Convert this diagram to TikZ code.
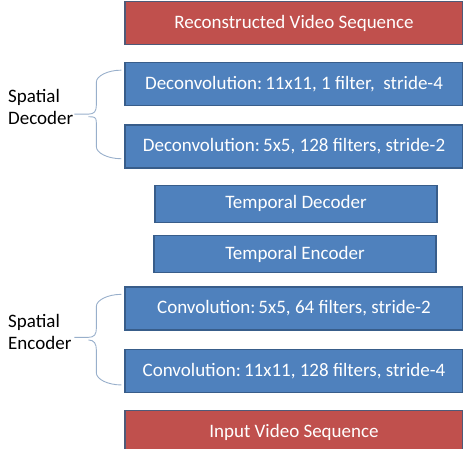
\documentclass[tikz,border=0pt]{standalone}
\usepackage{fontspec}
\setmainfont{Carlito}
\usetikzlibrary{positioning,calc}
\definecolor{videoFill}{HTML}{C0504D}
\definecolor{videoBorder}{HTML}{4E5A78}
\definecolor{layerFill}{HTML}{4F81BD}
\definecolor{layerBorder}{HTML}{385D8A}
\definecolor{braceLine}{HTML}{98AFCB}

\begin{document}
\begin{tikzpicture}[
    x=1pt, y=1pt,
    layer/.style={
        rectangle, draw=layerBorder, fill=layerFill,
        minimum width=338pt, minimum height=43pt,
        inner sep=0pt, line width=1.3pt,
        text=white, font=\fontsize{19}{22}\selectfont
    },
    video/.style={layer, draw=videoBorder, fill=videoFill},
    temporal/.style={layer, minimum width=282pt, minimum height=37pt},
    group/.style={align=left, inner sep=0pt, font=\fontsize{19}{22}\selectfont},
    curly/.style={draw=braceLine, line width=0.9pt}
]
  \useasboundingbox (0,0) rectangle (463,-449);

  % Layer stack, top to bottom
  \node[video] (recon) at (294,-23) {Reconstructed Video Sequence};

  \node[layer, below=17pt of recon] (deconvA) {Deconvolution:\,11x11, 1 filter,\ \ stride-4};

  \node[layer, below=18pt of deconvA] (deconvB) {Deconvolution:\,5x5, 128 filters, stride-2};

  \node[temporal, below=16pt of deconvB, xshift=2pt] (tdec) {Temporal Decoder};

  \node[temporal, below=12pt of tdec, xshift=-1pt] (tenc) {Temporal Encoder};

  \node[layer, below=13pt of tenc, xshift=-1pt] (convA) {Convolution:\,5x5, 64 filters, stride-2};

  \node[layer, below=18pt of convA] (convB) {Convolution:\,11x11, 128 filters, stride-4};

  \node[video, below=17pt of convB] (input) {Input Video Sequence};

  % Group labels
  \node[group, anchor=north west] (sdec) at (8,-89) {Spatial\\Decoder};
  \node[group, anchor=north west] (senc) at (8,-314) {Spatial\\Encoder};

  % Braces
  \draw[curly] ($(deconvA.north west)+(-3,-8)$) .. controls +(-14,0) and +(0,6) .. ++(-25,-12)
      -- ++(0,-23) .. controls +(0,-6) and +(6,0) .. ++(-8,-9)
      -- ++(-14,0);
  \draw[curly] ($(deconvB.south west)+(-3,10)$) .. controls +(-14,0) and +(0,-6) .. ++(-25,12)
      -- ++(0,24) .. controls +(0,6) and +(6,0) .. ++(-8,6);

  \draw[curly] ($(convA.north west)+(-3,-8)$) .. controls +(-14,0) and +(0,6) .. ++(-25,-12)
      -- ++(0,-22) .. controls +(0,-6) and +(6,0) .. ++(-8,-9)
      -- ++(-14,0);
  \draw[curly] ($(convB.south west)+(-3,8)$) .. controls +(-14,0) and +(0,-6) .. ++(-25,12)
      -- ++(0,23) .. controls +(0,6) and +(6,0) .. ++(-8,10);

\end{tikzpicture}
\end{document}
